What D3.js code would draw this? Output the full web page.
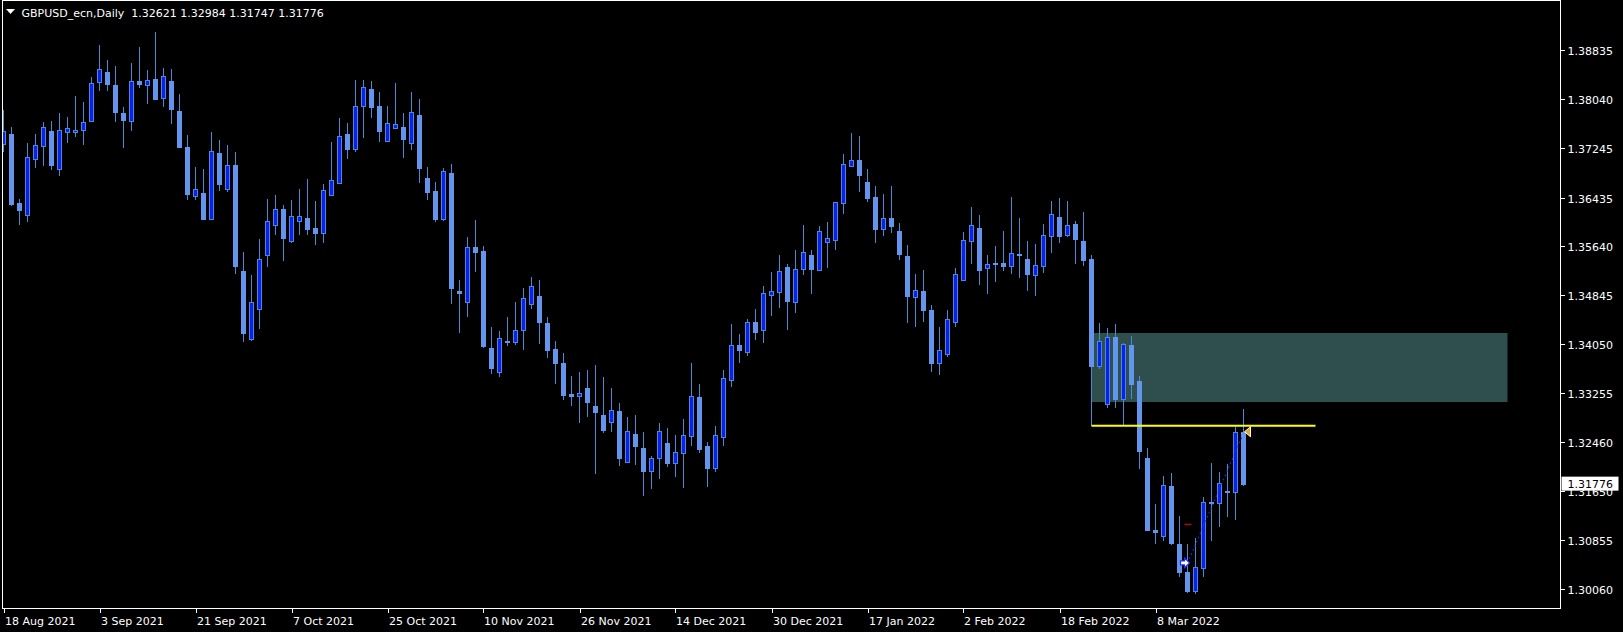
<!DOCTYPE html>
<html><head><meta charset="utf-8">
<script src="https://cdn.jsdelivr.net/npm/d3@7"></script>
<style>html,body{margin:0;padding:0;background:#000;}svg{display:block;}</style>
</head><body>
<script>
const symbolTitle = "GBPUSD_ecn,Daily";
const lastOHLC = ["1.32621","1.32984","1.31747","1.31776"];
const open = [1.37304,1.37471,1.36347,1.36152,1.37059,1.37271,1.37520,1.36896,1.37499,1.37499,1.37532,1.37688,1.38313,1.38481,1.38269,1.37813,1.37688,1.38335,1.38265,1.38367,1.38053,1.38335,1.37846,1.37260,1.36457,1.36505,1.36092,1.37157,1.36580,1.36961,1.35235,1.34137,1.34626,1.35495,1.35994,1.36245,1.35724,1.36059,1.36103,1.35935,1.35864,1.36473,1.36678,1.37471,1.37232,1.37923,1.38204,1.37923,1.37352,1.37564,1.37580,1.37320,1.37781,1.36755,1.36543,1.36092,1.36836,1.34914,1.34730,1.35631,1.35566,1.33985,1.33590,1.34100,1.34088,1.34274,1.34707,1.34833,1.34393,1.33969,1.33741,1.33236,1.33209,1.33334,1.33041,1.32894,1.32785,1.32959,1.32124,1.32585,1.32356,1.31987,1.32189,1.32438,1.32117,1.32280,1.32557,1.33187,1.32389,1.32036,1.32541,1.33469,1.34034,1.33925,1.34409,1.34284,1.34854,1.34903,1.35305,1.34740,1.35277,1.35500,1.35261,1.35717,1.35750,1.36352,1.36955,1.37048,1.36689,1.36445,1.35929,1.36103,1.35891,1.35484,1.34821,1.34909,1.34604,1.33741,1.33888,1.34409,1.35093,1.35728,1.35940,1.35293,1.35370,1.35370,1.35326,1.35517,1.35435,1.35175,1.35321,1.35815,1.36119,1.35826,1.36005,1.35728,1.35435,1.33697,1.33078,1.34165,1.33160,1.34034,1.33448,1.32194,1.31021,1.30923,1.31738,1.30793,1.30337,1.30030,1.30407,1.31477,1.31466,1.31656,1.31645,1.32621];
const high = [1.37862,1.37585,1.36413,1.37325,1.37471,1.37667,1.37683,1.37813,1.37748,1.38090,1.37993,1.38400,1.38921,1.38677,1.38579,1.37911,1.38628,1.38888,1.38514,1.39133,1.38546,1.38530,1.38123,1.37455,1.36934,1.36901,1.37504,1.37374,1.37292,1.37173,1.35549,1.35175,1.35761,1.36413,1.36478,1.36315,1.36396,1.36575,1.36738,1.36380,1.36657,1.37341,1.37732,1.37651,1.38351,1.38351,1.38335,1.38155,1.37927,1.38302,1.37813,1.38155,1.38041,1.36934,1.36689,1.36913,1.36983,1.35093,1.35789,1.36070,1.35647,1.34328,1.34262,1.34490,1.34735,1.34963,1.35142,1.35093,1.34490,1.34100,1.33904,1.33529,1.33595,1.33627,1.33709,1.33513,1.33334,1.33090,1.32861,1.32894,1.32617,1.32226,1.32764,1.32682,1.32568,1.32829,1.33741,1.33399,1.32454,1.32715,1.33627,1.34376,1.34214,1.34458,1.34621,1.34995,1.35223,1.35500,1.35354,1.35582,1.35989,1.35582,1.35973,1.36038,1.36359,1.37146,1.37488,1.37439,1.36901,1.36624,1.36494,1.36624,1.36022,1.35663,1.35191,1.35256,1.34686,1.34328,1.34604,1.35289,1.35875,1.36282,1.36152,1.35500,1.35647,1.35891,1.36445,1.36103,1.35728,1.35680,1.36005,1.36380,1.36429,1.36380,1.36054,1.36201,1.35500,1.34388,1.34311,1.34376,1.34067,1.34181,1.33529,1.32356,1.31444,1.31900,1.31949,1.31249,1.30793,1.30891,1.31558,1.32112,1.31966,1.32096,1.32699,1.32984];
const low = [1.37183,1.36303,1.36005,1.36043,1.36922,1.36955,1.36890,1.36792,1.37330,1.37427,1.37297,1.37672,1.38177,1.38177,1.37672,1.37248,1.37525,1.38226,1.37965,1.38030,1.37916,1.37639,1.37248,1.36401,1.36401,1.36092,1.36075,1.36559,1.36527,1.35196,1.34090,1.34110,1.34311,1.35310,1.35831,1.35419,1.35701,1.35831,1.35831,1.35668,1.35712,1.36473,1.36662,1.37080,1.37183,1.37411,1.37748,1.37346,1.37350,1.37564,1.37085,1.37216,1.36678,1.36401,1.36043,1.36059,1.34707,1.34235,1.34495,1.35228,1.33990,1.33567,1.33518,1.34023,1.34039,1.33958,1.34626,1.34056,1.33827,1.33404,1.33143,1.33046,1.32769,1.32866,1.31944,1.32606,1.32633,1.32068,1.32117,1.32080,1.31591,1.31689,1.31856,1.32052,1.31889,1.31710,1.32394,1.32291,1.31726,1.31971,1.32394,1.33366,1.33757,1.33871,1.34132,1.34072,1.34523,1.34642,1.34295,1.34572,1.35191,1.34881,1.35261,1.35305,1.35598,1.36184,1.36955,1.36527,1.36364,1.35712,1.35826,1.35859,1.35435,1.34393,1.34344,1.34425,1.33595,1.33562,1.33855,1.34328,1.35093,1.35370,1.35028,1.34881,1.35061,1.35256,1.35207,1.35126,1.34930,1.34849,1.35223,1.35549,1.35712,1.35810,1.35370,1.35337,1.32720,1.33648,1.33013,1.33013,1.32720,1.33160,1.32019,1.31005,1.30809,1.30858,1.30793,1.30260,1.29995,1.29985,1.30260,1.30858,1.31086,1.31249,1.31184,1.31747];
const close = [1.37520,1.36336,1.36238,1.37102,1.37292,1.37580,1.36971,1.37532,1.37564,1.37532,1.37672,1.38297,1.38525,1.38291,1.37835,1.37704,1.38330,1.38291,1.38346,1.38046,1.38411,1.37883,1.37264,1.36499,1.36571,1.36092,1.37190,1.36662,1.36961,1.35326,1.34230,1.34730,1.35430,1.36049,1.36245,1.35782,1.36131,1.36131,1.35929,1.35864,1.36554,1.36717,1.37434,1.37232,1.37923,1.38232,1.37916,1.37525,1.37646,1.37629,1.37395,1.37825,1.36922,1.36531,1.36092,1.36864,1.34968,1.34886,1.35626,1.35554,1.34023,1.33665,1.34143,1.34088,1.34274,1.34795,1.34991,1.34414,1.33958,1.33746,1.33225,1.33209,1.33252,1.33111,1.32948,1.32655,1.32975,1.32199,1.32628,1.32394,1.31987,1.32194,1.32633,1.32117,1.32291,1.32568,1.33204,1.32345,1.32036,1.32568,1.33497,1.34034,1.33958,1.34409,1.34251,1.34881,1.34909,1.35240,1.34751,1.35272,1.35544,1.35272,1.35891,1.35777,1.36359,1.36978,1.37043,1.36803,1.36429,1.35924,1.36103,1.35973,1.35517,1.34833,1.34925,1.34604,1.33741,1.33953,1.34458,1.35191,1.35745,1.35989,1.35256,1.35354,1.35359,1.35321,1.35533,1.35506,1.35191,1.35337,1.35826,1.36168,1.35810,1.35989,1.35761,1.35419,1.33692,1.34095,1.34160,1.33155,1.34051,1.33399,1.32313,1.31021,1.30988,1.31754,1.30809,1.30342,1.30030,1.30418,1.31477,1.31461,1.31786,1.31640,1.32617,1.31776];
const dateTickIndex = [0,12,24,36,48,60,72,84,96,108,120,132,144];
const dateTickLabels = ["18 Aug 2021","3 Sep 2021","21 Sep 2021","7 Oct 2021","25 Oct 2021","10 Nov 2021","26 Nov 2021","14 Dec 2021","30 Dec 2021","17 Jan 2022","2 Feb 2022","18 Feb 2022","8 Mar 2022"];
const priceTicks = [1.38835,1.38040,1.37245,1.36435,1.35640,1.34845,1.34050,1.33255,1.32460,1.31650,1.30855,1.30060];
const currentPrice = 1.31776;
// drawn objects (time index, price)
const zoneRect = {i0:136, i1:188, top:1.34230, bottom:1.33106};
const supportLine = {i0:136, i1:164, price:1.32720};
const redMark = {i0:147.6, i1:148.5, price:1.31114};
const trade = {openIndex:148, openPrice:1.30485, closeIndex:155, closePrice:1.32621};

const W = 1623, H = 632;
const plotL = 2.5, plotR = 1560.5, plotT = 0.5, plotB = 608.5;
const bullFill = "#0a1ff0", bearFill = "#6495ed", wickCol = "#4a8ad4";
const font = "'DejaVu Sans', Verdana, sans-serif";

const svg = d3.select("body").append("svg").attr("width", W).attr("height", H)
  .style("background", "#000");

const x = d3.scaleLinear().domain([0, 100]).range([3.5, 803.5]);
const y = d3.scaleLinear().domain([1.30060, 1.38835]).range([589, 50.3]);

svg.append("defs").append("clipPath").attr("id", "plot")
  .append("rect").attr("x", plotL + 0.5).attr("y", plotT + 0.5)
  .attr("width", plotR - plotL - 1).attr("height", plotB - plotT - 1);

const g = svg.append("g").attr("clip-path", "url(#plot)");

// zone rectangle (background object)
g.append("rect")
  .attr("x", x(zoneRect.i0)).attr("y", y(zoneRect.top))
  .attr("width", x(zoneRect.i1) - x(zoneRect.i0))
  .attr("height", y(zoneRect.bottom) - y(zoneRect.top))
  .attr("fill", "#2f4f4f");

const idx = d3.range(open.length);
// wicks
g.append("g").selectAll("line").data(idx).join("line")
  .attr("x1", i => x(i)).attr("x2", i => x(i))
  .attr("y1", i => y(high[i])).attr("y2", i => y(low[i]) + 0.5)
  .attr("stroke", wickCol).attr("stroke-width", 1)
  .attr("shape-rendering", "crispEdges");
// bodies
g.append("g").selectAll("rect").data(idx).join("rect")
  .attr("x", i => x(i) - 2)
  .attr("width", 4)
  .attr("y", i => Math.round(y(Math.max(open[i], close[i]))) + 0.5)
  .attr("height", i => Math.max(0.01, Math.round(y(Math.min(open[i], close[i]))) - Math.round(y(Math.max(open[i], close[i])))))
  .attr("fill", i => close[i] > open[i] ? bullFill : bearFill)
  .attr("stroke", i => close[i] > open[i] ? wickCol : bearFill)
  .attr("stroke-width", 1)
  .attr("shape-rendering", "crispEdges");

// support line
g.append("line")
  .attr("x1", x(supportLine.i0)).attr("x2", x(supportLine.i1))
  .attr("y1", y(supportLine.price)).attr("y2", y(supportLine.price))
  .attr("stroke", "#ffff00").attr("stroke-width", 2);

// red small mark
g.append("line")
  .attr("x1", x(redMark.i0)).attr("x2", x(redMark.i1))
  .attr("y1", y(redMark.price)).attr("y2", y(redMark.price))
  .attr("stroke", "#ff0000").attr("stroke-width", 1);

// trade line
g.append("line")
  .attr("x1", x(trade.openIndex)).attr("y1", y(trade.openPrice))
  .attr("x2", x(trade.closeIndex) - 1).attr("y2", y(trade.closePrice) + 4)
  .attr("stroke", "#1a2cff").attr("stroke-width", 1.2)
  .attr("stroke-dasharray", "1.5,3");

// buy arrow
const bx = x(trade.openIndex) - 3, by = y(trade.openPrice);
g.append("path")
  .attr("d", `M${bx-4},${by-2} L${bx},${by-2} L${bx},${by-5} L${bx+5},${by} L${bx},${by+5} L${bx},${by+2} L${bx-4},${by+2} Z`)
  .attr("fill", "#ffffff").attr("stroke", "#1a2cff").attr("stroke-width", 1.2);
// close marker
const cx = x(trade.closeIndex) + 1, cy = y(trade.closePrice);
g.append("path")
  .attr("d", `M${cx},${cy} L${cx+6},${cy-5} L${cx+6},${cy+5} Z`)
  .attr("fill", "#f0a020").attr("stroke", "#ffffff").attr("stroke-width", 1);

// frame
svg.append("rect").attr("x", plotL).attr("y", plotT)
  .attr("width", plotR - plotL).attr("height", plotB - plotT)
  .attr("fill", "none").attr("stroke", "#ffffff").attr("stroke-width", 1)
  .attr("shape-rendering", "crispEdges");

// price axis
const pa = svg.append("g");
priceTicks.forEach(p => {
  const yy = Math.round(y(p)) + 0.5;
  pa.append("line").attr("x1", plotR).attr("x2", plotR + 4).attr("y1", yy).attr("y2", yy)
    .attr("stroke", "#fff").attr("shape-rendering", "crispEdges");
  pa.append("text").attr("x", plotR + 7).attr("y", yy + 4)
    .attr("fill", "#fff").attr("font-family", font).attr("font-size", 11)
    .text(p.toFixed(5));
});
// current price box
const cpy = y(currentPrice);
pa.append("rect").attr("x", plotR + 1).attr("y", cpy - 7).attr("width", 57).attr("height", 14)
  .attr("fill", "#fff");
pa.append("text").attr("x", plotR + 7).attr("y", cpy + 4)
  .attr("fill", "#000").attr("font-family", font).attr("font-size", 11)
  .text(currentPrice.toFixed(5));

// date axis
const da = svg.append("g");
dateTickIndex.forEach((di, k) => {
  const xx = Math.round(x(di)) + 0.5;
  da.append("line").attr("x1", xx).attr("x2", xx).attr("y1", plotB).attr("y2", plotB + 4)
    .attr("stroke", "#fff").attr("shape-rendering", "crispEdges");
  da.append("text").attr("x", xx + 0.5).attr("y", 625)
    .attr("fill", "#fff").attr("font-family", font).attr("font-size", 11)
    .text(dateTickLabels[k]);
});

// header
svg.append("path").attr("d", "M6,9 L15,9 L10.5,14 Z").attr("fill", "#fff");
svg.append("text").attr("x", 21.5).attr("y", 16.5)
  .attr("fill", "#fff").attr("font-family", font).attr("font-size", 11)
  .attr("xml:space", "preserve")
  .text(symbolTitle + "  " + lastOHLC.join(" "));
</script>
</body></html>
